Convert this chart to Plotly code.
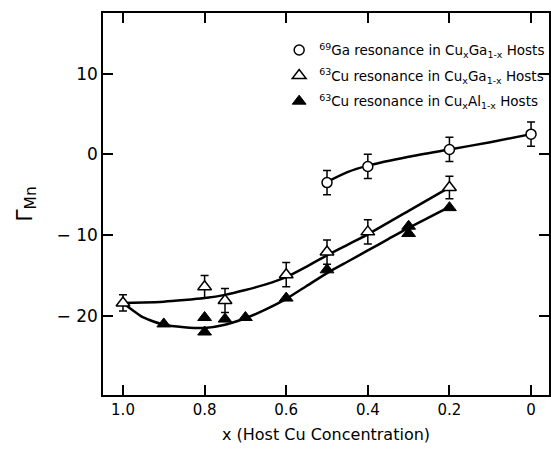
import plotly.graph_objects as go

# ---- data ----
ga_x = [0.5, 0.4, 0.2, 0.0]
ga_y = [-3.5, -1.5, 0.6, 2.5]
ga_err = [1.5, 1.5, 1.5, 1.5]

cuga_x = [1.0, 0.8, 0.75, 0.6, 0.5, 0.4, 0.2]
cuga_y = [-18.4, -16.4, -18.1, -14.9, -12.1, -9.6, -4.1]
cuga_err = [1.0, 1.4, 1.5, 1.5, 1.5, 1.5, 1.4]

cual_x = [0.9, 0.8, 0.8, 0.75, 0.7, 0.6, 0.5, 0.3, 0.3, 0.2]
cual_y = [-21.0, -20.2, -22.0, -20.4, -20.2, -17.8, -14.3, -8.9, -9.8, -6.6]

# hand-drawn guide curves
ga_curve_x = [0.5, 0.45, 0.4, 0.3, 0.2, 0.1, 0.0]
ga_curve_y = [-3.4, -2.2, -1.4, -0.3, 0.6, 1.5, 2.5]

cuga_curve_x = [1.0, 0.95, 0.9, 0.85, 0.8, 0.75, 0.7, 0.65, 0.6, 0.55, 0.5, 0.45, 0.4, 0.3, 0.2]
cuga_curve_y = [-18.4, -18.35, -18.25, -18.05, -17.8, -17.4, -16.8, -16.1, -15.2, -13.9, -12.5, -11.2, -9.9, -7.0, -4.1]

cual_curve_x = [1.0, 0.95, 0.9, 0.85, 0.8, 0.75, 0.7, 0.65, 0.6, 0.55, 0.5, 0.45, 0.4, 0.35, 0.3, 0.25, 0.2]
cual_curve_y = [-18.4, -20.2, -21.1, -21.4, -21.5, -21.1, -20.3, -19.2, -17.9, -16.3, -14.7, -13.3, -11.9, -10.5, -9.1, -7.8, -6.5]

x_ticks = [1.0, 0.8, 0.6, 0.4, 0.2, 0.0]
x_ticktext = ["1.0", "0.8", "0.6", "0.4", "0.2", "0"]
y_ticks = [-20, -10, 0, 10]
y_ticktext = ["\u2212 20", "\u2212 10", "0", "10"]

legend_names = [
    "<sup>69</sup>Ga resonance in Cu<sub>x</sub>Ga<sub>1-x</sub> Hosts",
    "<sup>63</sup>Cu resonance in Cu<sub>x</sub>Ga<sub>1-x</sub> Hosts",
    "<sup>63</sup>Cu resonance in Cu<sub>x</sub>Al<sub>1-x</sub> Hosts",
]

FONT = "DejaVu Sans"
fig = go.Figure()

for cx, cy in [(ga_curve_x, ga_curve_y), (cuga_curve_x, cuga_curve_y), (cual_curve_x, cual_curve_y)]:
    fig.add_trace(go.Scatter(x=cx, y=cy, mode="lines", showlegend=False, hoverinfo="skip",
                             line=dict(color="black", width=2.5, shape="spline", smoothing=0.6)))

fig.add_trace(go.Scatter(
    x=ga_x, y=ga_y, mode="markers", name=legend_names[0], legendgroup="a",
    error_y=dict(type="data", array=ga_err, color="black", thickness=1.5, width=4),
    marker=dict(symbol="circle", size=10, color="white", line=dict(color="black", width=1.5))))
fig.add_trace(go.Scatter(
    x=cuga_x, y=cuga_y, mode="markers", name=legend_names[1], legendgroup="b",
    error_y=dict(type="data", array=cuga_err, color="black", thickness=1.5, width=4),
    marker=dict(symbol="triangle-up", size=12, color="white", line=dict(color="black", width=1.5))))
fig.add_trace(go.Scatter(
    x=cual_x, y=cual_y, mode="markers", name=legend_names[2], legendgroup="c",
    marker=dict(symbol="triangle-up", size=12, color="black", line=dict(color="black", width=1))))

fig.update_layout(
    width=551, height=449,
    margin=dict(l=103, r=0, t=13, b=54),
    paper_bgcolor="white", plot_bgcolor="white",
    font=dict(family=FONT, color="black", size=15),
    legend=dict(x=0.395, y=0.943, xanchor="left", yanchor="top", bgcolor="rgba(0,0,0,0)",
                font=dict(family=FONT, size=13.5, color="black"), tracegroupgap=5,
                itemsizing="trace"),
    xaxis=dict(range=[1.049, -0.044], tickvals=x_ticks, ticktext=x_ticktext,
               ticks="inside", ticklen=10, tickwidth=1.5, tickcolor="black",
               showline=True, linecolor="black", linewidth=1.5, mirror="ticks",
               showgrid=False, zeroline=False, tickfont=dict(size=15),
               title=dict(text="x (Host Cu Concentration)", font=dict(size=16), standoff=11)),
    yaxis=dict(range=[-29.8, 17.5], tickvals=y_ticks, ticktext=y_ticktext,
               ticks="inside", ticklen=10, tickwidth=1.5, tickcolor="black",
               showline=True, linecolor="black", linewidth=1.5, mirror="ticks",
               showgrid=False, zeroline=False, tickfont=dict(size=17),
               title=dict(text="\u0393<sub>Mn</sub>", font=dict(size=22), standoff=18)),
)

fig.write_html("out.html")
